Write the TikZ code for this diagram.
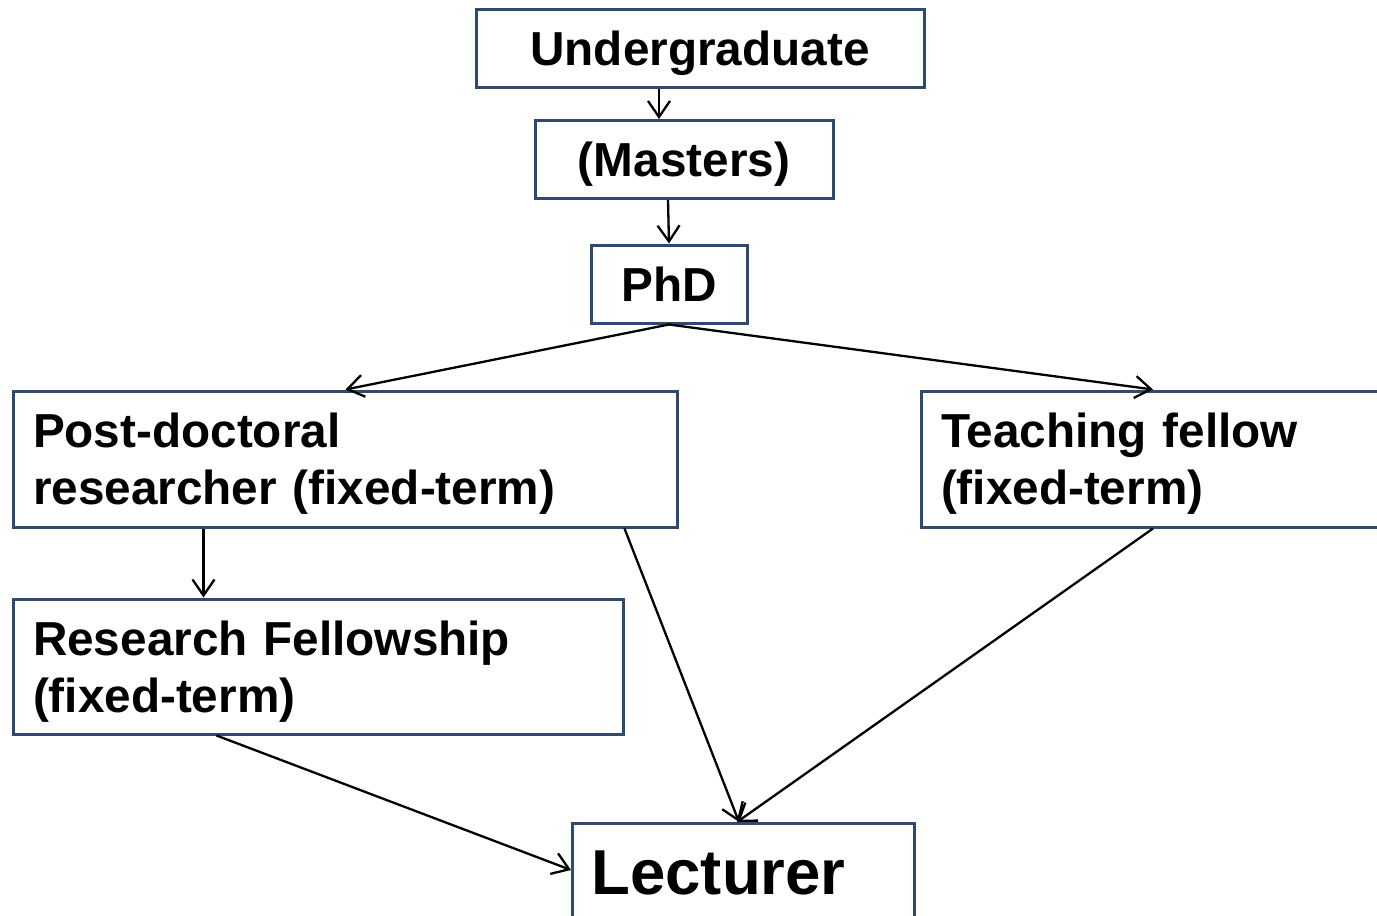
\documentclass[tikz,border=0pt]{standalone}
\usepackage{fontspec}
\setmainfont{Liberation Sans}
\usetikzlibrary{arrows.meta}
\definecolor{boxblue}{RGB}{46,74,110}
\tikzset{
  stage/.style={draw=boxblue, line width=3pt, fill=white, inner sep=0pt,
    font=\bfseries\fontsize{47.7pt}{57pt}\selectfont,
    text height=34pt, text depth=0pt},
  longstage/.style={stage, align=left, inner xsep=20pt,
    text height=34pt, text depth=57pt, minimum height=136}
}
\begin{document}
\begin{tikzpicture}[x=1pt, y=-1pt, >={Straight Barb[length=16pt,width=22pt]}]
    \clip (0,0) rectangle (1377,916);
    
    \foreach \n/\l/\w/\x/\y in {ugrad/Undergraduate/448/700/48,
                                masters/(Masters)/298/684/159.5,
                                phd/PhD/156/669/284}
      \node [stage, minimum width=\w, minimum height=78] (\n) at (\x,\y) {\l};
    
    \node [longstage, text width=624] (postdoc) at (345,459)
      {Post-doctoral\\researcher (fixed-term)};
    \node [longstage, text width=424] (teaching) at (1153,459)
      {Teaching fellow\\(fixed-term)};
    \node [longstage, text width=570, minimum height=135] (research) at (318,666.5)
      {Research Fellowship\\(fixed-term)};
    
    \node [stage, anchor=north west, align=left, text width=304,
      font=\bfseries\fontsize{63.5pt}{75pt}\selectfont,
      text height=46pt, text depth=40pt, inner xsep=19pt, inner ysep=25pt]
      (lecturer) at (571,822) {Lecturer};
    
    \begin{scope}[line width=2.3pt]
    \draw [->] ([xshift=-41pt]ugrad.south) -- ([xshift=-25pt]masters.north);
    \draw [->] ([xshift=-16pt]masters.south) -- (phd.north);
    \draw [->] (phd.south) -- ([xshift=334pt]postdoc.north west);
    \draw [->] (phd.south) -- (teaching.north);
    \draw [->] ([xshift=192pt]postdoc.south west) -- ([xshift=192pt]research.north west);
    \draw [->] ([xshift=-54pt]postdoc.south east) -- ([xshift=168pt]lecturer.north west);
    \draw [->] (teaching.south) -- ([xshift=166pt]lecturer.north west);
    \draw [->] ([xshift=205pt]research.south west) -- ([yshift=-48pt]lecturer.north west);
    \end{scope}
    
\end{tikzpicture}
\end{document}
